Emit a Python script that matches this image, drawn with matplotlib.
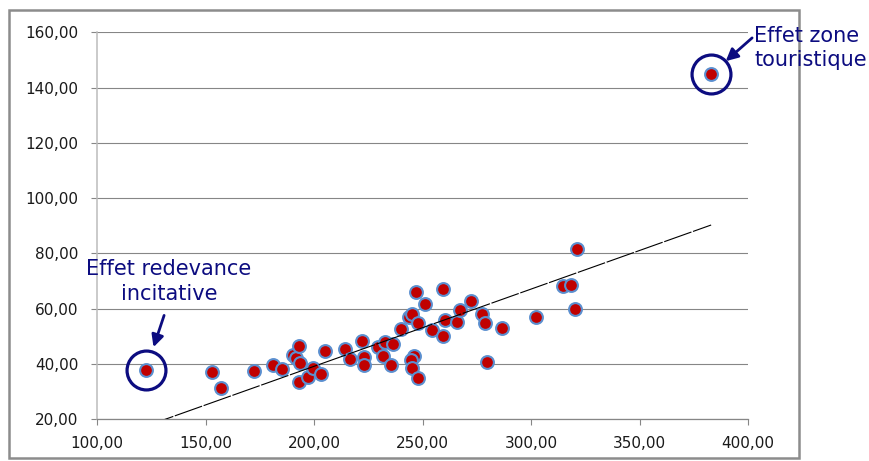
import numpy as np
import matplotlib
matplotlib.use("Agg")
import matplotlib.pyplot as plt
import matplotlib.ticker as mtick
from matplotlib.patches import Rectangle

# values
x_vals = [122.6, 153.1, 157.3, 172.2, 181.2, 185.3, 190.5, 191.7, 193.2, 193.5,
          193.2, 197.0, 199.7, 203.4, 205.1, 214.2, 216.6, 222.1, 223.0, 223.0,
          229.6, 232.7, 236.3, 231.9, 235.3, 240.1, 243.9, 245.0, 248.1, 247.0,
          251.2, 259.3, 254.2, 259.3, 260.3, 265.9, 267.3, 272.2, 277.3, 278.8,
          286.5, 302.2, 314.9, 318.3, 320.1, 321.1, 246.1, 244.6, 245.0, 248.1,
          279.9, 383.0]
y_vals = [37.9, 36.9, 31.3, 37.4, 39.7, 38.1, 43.2, 42.1, 46.4, 40.3,
          33.5, 35.3, 38.5, 36.2, 44.7, 45.2, 41.6, 48.3, 42.6, 39.6,
          46.0, 47.7, 47.0, 42.8, 39.7, 52.7, 56.9, 58.0, 54.9, 66.1,
          61.7, 67.2, 52.1, 50.0, 55.7, 55.2, 59.5, 62.8, 58.0, 54.9,
          53.1, 57.0, 68.3, 68.4, 59.7, 81.5, 42.8, 41.5, 38.5, 35.0,
          40.5, 144.9]

# linear trendline as drawn in the chart
trend_slope = 0.2796
trend_intercept = -16.85

outlier_low = (122.6, 37.9)
outlier_high = (383.0, 144.9)
label_low = "Effet redevance\nincitative"
label_high = "Effet zone\ntouristique"

navy = "#0c0c80"

fig = plt.figure(figsize=(8.7, 4.61), dpi=100)
ax = fig.add_axes([0.1115, 0.0911, 0.7483, 0.8388])

# chart area border
fig.patches.append(Rectangle((9 / 870, 3 / 461), 790 / 870, 447.5 / 461,
                             transform=fig.transFigure, fill=False,
                             edgecolor="#8c8c8c", linewidth=1.8, zorder=-1))

ax.scatter(x_vals, y_vals, s=85, c="#c00000", edgecolors="#5b8fcf",
           linewidths=1.5, zorder=3)

tx = np.array([min(x_vals), max(x_vals)])
line, = ax.plot(tx, trend_slope * tx + trend_intercept, color="black",
                linewidth=0.8, zorder=4)
line.set_dashes((26, 1.5))

ax.set_xlim(100, 400)
ax.set_ylim(20, 160)
ax.xaxis.set_major_locator(mtick.MultipleLocator(50))
ax.yaxis.set_major_locator(mtick.MultipleLocator(20))
fmt = mtick.FuncFormatter(lambda v, p: f"{v:.2f}".replace(".", ","))
ax.xaxis.set_major_formatter(fmt)
ax.yaxis.set_major_formatter(fmt)

ax.grid(axis="y", color="#868686", linewidth=0.8)
ax.set_axisbelow(True)
for s in ["top", "right"]:
    ax.spines[s].set_visible(False)
ax.spines["left"].set_color("#bcbcbc")
ax.spines["left"].set_linewidth(1.1)
ax.spines["bottom"].set_color("#868686")
ax.spines["bottom"].set_linewidth(0.9)
ax.tick_params(axis="both", direction="out", length=4.5, width=0.8,
               color="#868686", labelsize=11, labelcolor="#1a1a1a")
ax.tick_params(axis="y", pad=9)
ax.tick_params(axis="x", pad=8)

# circles + arrows + labels around the two outliers
for pt in [outlier_low, outlier_high]:
    ax.plot(pt[0], pt[1], marker="o", markersize=28, markerfacecolor="none",
            markeredgecolor=navy, markeredgewidth=2.3, zorder=5, clip_on=False)

ax.annotate("", xy=outlier_low, xytext=(13, 39), textcoords="offset points",
            arrowprops=dict(arrowstyle="-|>", color=navy, lw=2.0,
                            mutation_scale=18, shrinkA=0, shrinkB=17))
ax.annotate(label_low, xy=outlier_low, xytext=(16.5, 63.5),
            textcoords="offset points", ha="center", va="center",
            fontsize=15, color=navy, linespacing=1.3, annotation_clip=False)

ax.annotate("", xy=outlier_high, xytext=(29.5, 26), textcoords="offset points",
            arrowprops=dict(arrowstyle="-|>", color=navy, lw=2.0,
                            mutation_scale=18, shrinkA=0, shrinkB=14),
            annotation_clip=False)
ax.annotate(label_high, xy=outlier_high, xytext=(31, 18.7),
            textcoords="offset points", ha="left", va="center",
            fontsize=15, color=navy, linespacing=1.3, annotation_clip=False)

plt.savefig("out.png", dpi=100)
